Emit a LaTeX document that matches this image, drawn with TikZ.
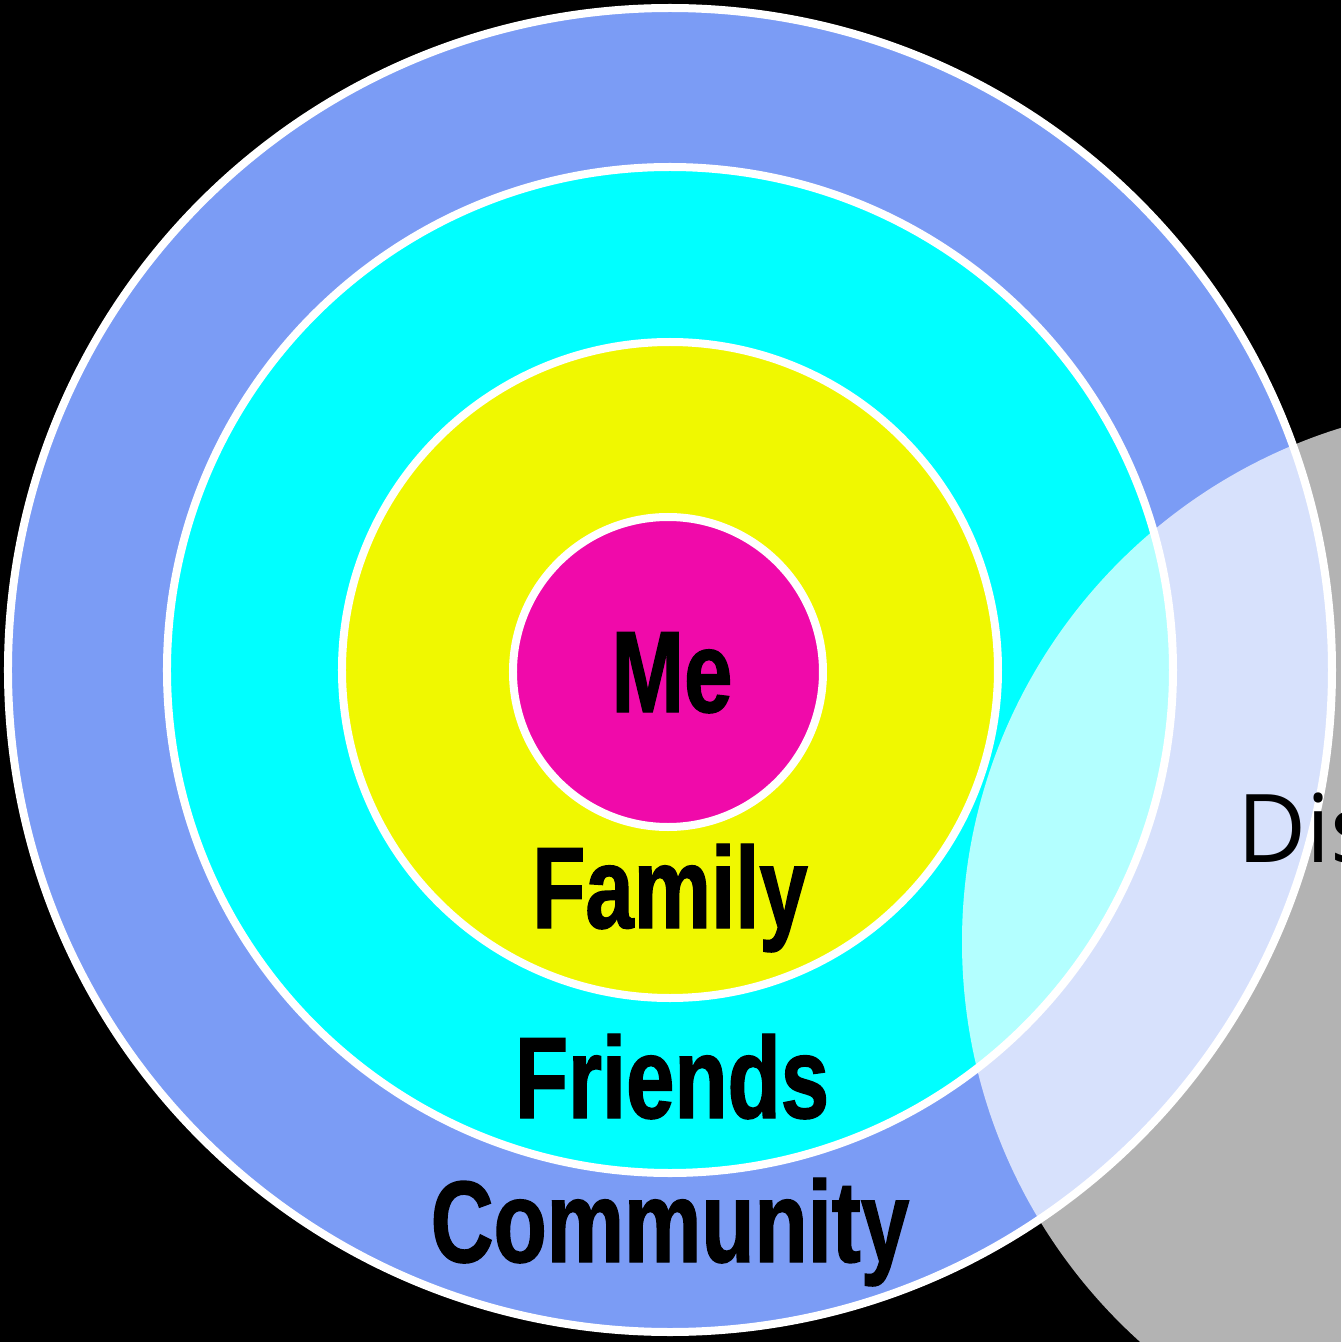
\documentclass[tikz,border=0pt]{standalone}
\usepackage{fontspec}
\newfontfamily\ringfont[FakeStretch=0.75,FakeBold=1.2]{Liberation Sans Bold}
\newfontfamily\notefont{Open Sans}
\definecolor{ringblue}{RGB}{123,156,245}
\definecolor{ringcyan}{RGB}{0,255,255}
\definecolor{ringyellow}{RGB}{240,248,0}
\definecolor{ringpink}{RGB}{240,10,170}
\tikzset{
  ring/.style={draw=white, line width=0.08cm},
  ringlabel/.style={anchor=base, inner sep=0pt, font=\ringfont\fontsize{33}{33}\selectfont},
}
\begin{document}
\begin{tikzpicture}
    % the page
    \clip (-6.70,-6.72) rectangle (6.71,6.70);
    \fill[black] (-6.70,-6.72) rectangle (6.71,6.70);
    % draw the rings
    \filldraw[ring, fill=ringblue] (0,0) circle (6.62cm);
    \filldraw[ring, fill=ringcyan] (0,0) circle (5.03cm);
    \filldraw[ring, fill=ringyellow] (0,0) circle (3.28cm);
    \filldraw[ring, fill=ringpink] (-0.02,-0.02) circle (1.55cm);
    % the texts
    \node[ringlabel] (me) at (0.02,-0.42) {Me};
    \node[ringlabel] (family) at (0,-2.58) {Family};
    \node[ringlabel] (friends) at (0.02,-4.48) {Friends};
    \node[ringlabel] (community) at (0,-5.92) {Community};
    % the overlapping circle on the right
    \fill[white, fill opacity=0.7] (8.30,-2.72) circle (5.38cm);
    \node[anchor=base west, inner sep=0pt, font=\notefont\fontsize{27}{27}\selectfont] (distant) at (5.67,-1.92) {Dis};
\end{tikzpicture}
\end{document}
